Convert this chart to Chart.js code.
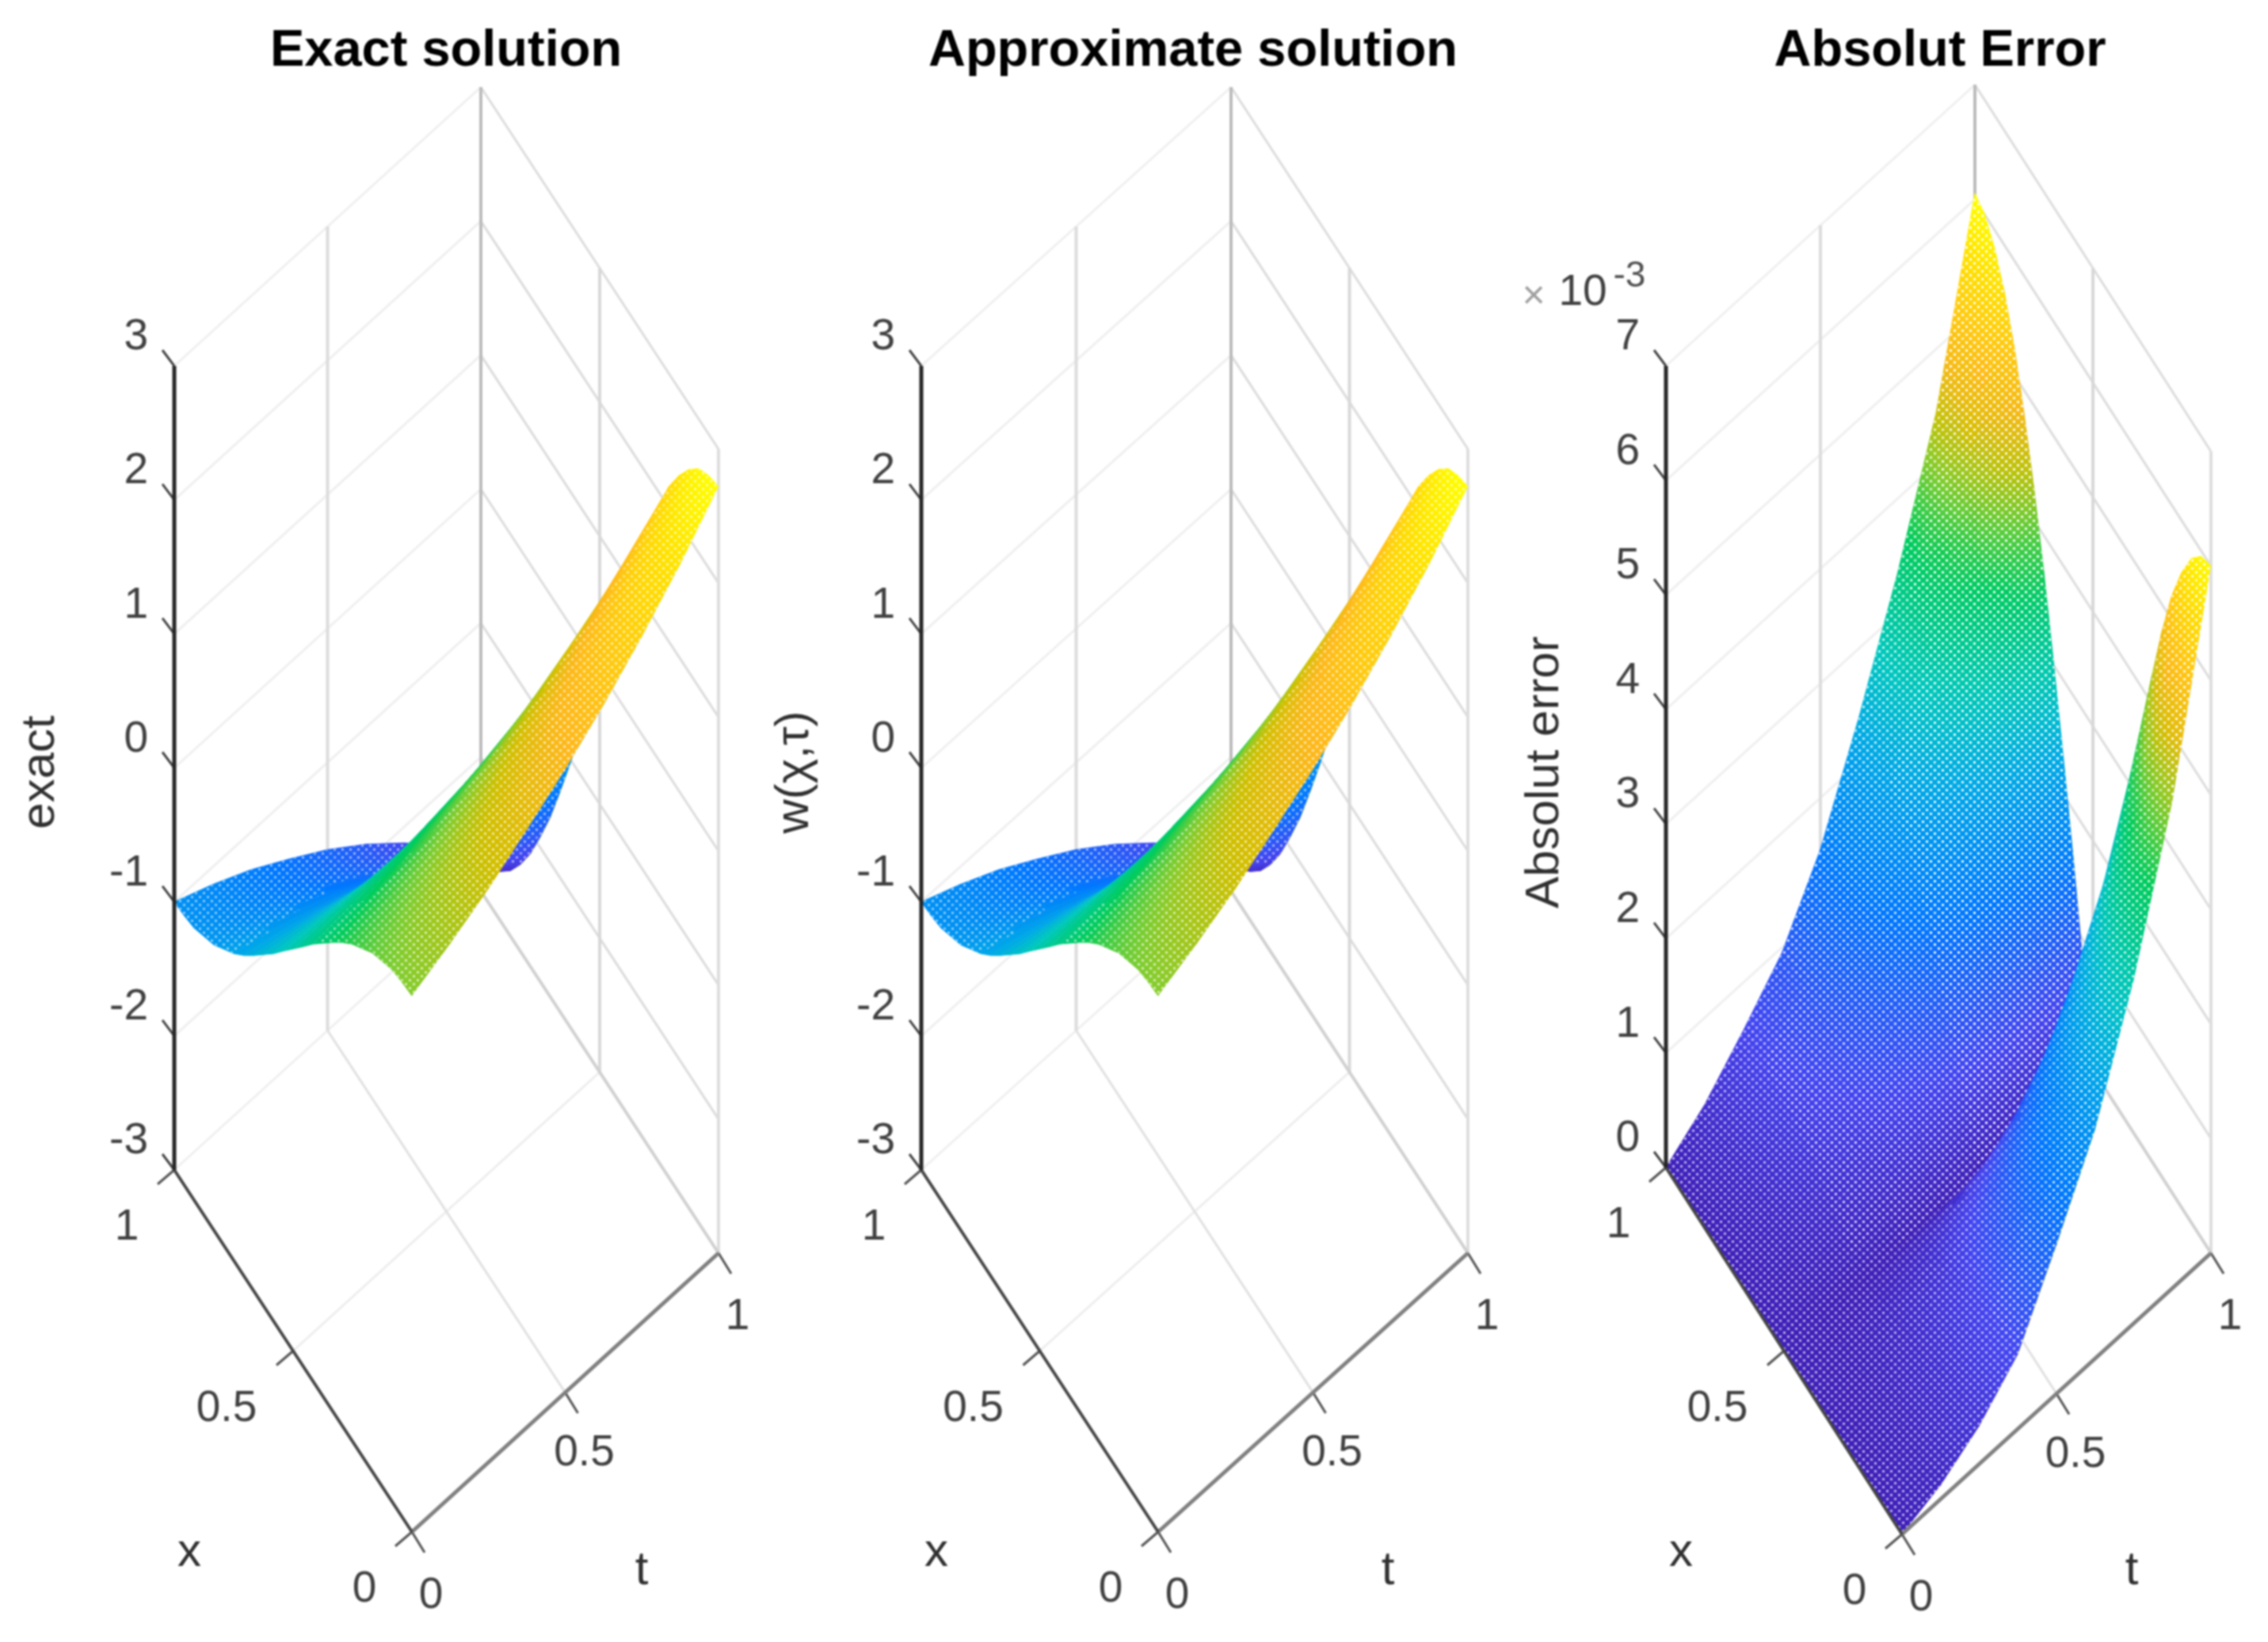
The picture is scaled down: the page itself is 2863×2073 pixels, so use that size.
<!DOCTYPE html>
<html>
<head>
<meta charset="utf-8">
<title>Exact solution, Approximate solution, Absolut Error</title>
<script src="https://cdn.jsdelivr.net/npm/chart.js@4/dist/chart.umd.min.js"></script>
<style>
    html, body { margin: 0; padding: 0; background: #fff; overflow: hidden; }
    #page { position: relative; width: 2863px; height: 2073px; overflow: hidden; }
    canvas { position: absolute; top: 0; filter: blur(1.3px); }
</style>
</head>
<body>
<div id="page">
    <canvas id="chart_exact" width="1126" height="2073" style="left:0"></canvas>
    <canvas id="chart_approx" width="1112" height="2073" style="left:950px"></canvas>
    <canvas id="chart_error" width="1098" height="2073" style="left:1900px"></canvas>
</div>
<script>
    const x_values = [0, 0.042, 0.083, 0.125, 0.167, 0.208, 0.25, 0.292, 0.333, 0.375, 0.417, 0.458, 0.5,
        0.542, 0.583, 0.625, 0.667, 0.708, 0.75, 0.792, 0.833, 0.875, 0.917, 0.958, 1];
    const t_values = [0, 0.125, 0.25, 0.375, 0.5, 0.625, 0.75, 0.875, 1];

    // one row per t, one column per x
    const exact_z = [
        [1.00, 0.99, 0.97, 0.92, 0.87, 0.79, 0.71, 0.61, 0.50, 0.38, 0.26, 0.13, 0, -0.13, -0.26, -0.38, -0.50, -0.61, -0.71, -0.79, -0.87, -0.92, -0.97, -0.99, -1.00],
        [1.13, 1.12, 1.09, 1.05, 0.98, 0.90, 0.80, 0.69, 0.57, 0.43, 0.29, 0.15, 0, -0.15, -0.29, -0.43, -0.57, -0.69, -0.80, -0.90, -0.98, -1.05, -1.09, -1.12, -1.13],
        [1.28, 1.27, 1.24, 1.19, 1.11, 1.02, 0.91, 0.78, 0.64, 0.49, 0.33, 0.17, 0, -0.17, -0.33, -0.49, -0.64, -0.78, -0.91, -1.02, -1.11, -1.19, -1.24, -1.27, -1.28],
        [1.46, 1.44, 1.41, 1.34, 1.26, 1.15, 1.03, 0.89, 0.73, 0.56, 0.38, 0.19, 0, -0.19, -0.38, -0.56, -0.73, -0.89, -1.03, -1.15, -1.26, -1.34, -1.41, -1.44, -1.46],
        [1.65, 1.63, 1.59, 1.52, 1.43, 1.31, 1.17, 1.00, 0.82, 0.63, 0.43, 0.22, 0, -0.22, -0.43, -0.63, -0.82, -1.00, -1.17, -1.31, -1.43, -1.52, -1.59, -1.63, -1.65],
        [1.87, 1.85, 1.80, 1.73, 1.62, 1.48, 1.32, 1.14, 0.93, 0.72, 0.48, 0.24, 0, -0.24, -0.48, -0.72, -0.93, -1.14, -1.32, -1.48, -1.62, -1.73, -1.80, -1.85, -1.87],
        [2.12, 2.10, 2.04, 1.96, 1.83, 1.68, 1.50, 1.29, 1.06, 0.81, 0.55, 0.28, 0, -0.28, -0.55, -0.81, -1.06, -1.29, -1.50, -1.68, -1.83, -1.96, -2.04, -2.10, -2.12],
        [2.40, 2.38, 2.32, 2.22, 2.08, 1.90, 1.70, 1.46, 1.20, 0.92, 0.62, 0.31, 0, -0.31, -0.62, -0.92, -1.20, -1.46, -1.70, -1.90, -2.08, -2.22, -2.32, -2.38, -2.40],
        [2.72, 2.69, 2.63, 2.51, 2.35, 2.16, 1.92, 1.66, 1.36, 1.04, 0.70, 0.36, 0, -0.36, -0.70, -1.04, -1.36, -1.66, -1.92, -2.16, -2.35, -2.51, -2.63, -2.69, -2.72]
    ];
    // cannot be told apart from the exact surface in the picture
    const approx_z = exact_z;
    // in units of 10^-3
    const error_z = [
        [0, 0, 0, 0, 0, 0, 0, 0, 0, 0, 0, 0, 0, 0, 0, 0, 0, 0, 0, 0, 0, 0, 0, 0, 0],
        [0.12, 0.12, 0.12, 0.11, 0.10, 0.10, 0.08, 0.07, 0.06, 0.05, 0.03, 0.02, 0, 0.03, 0.06, 0.09, 0.12, 0.15, 0.17, 0.19, 0.21, 0.22, 0.23, 0.24, 0.24],
        [0.33, 0.33, 0.32, 0.30, 0.29, 0.26, 0.23, 0.20, 0.17, 0.13, 0.09, 0.04, 0, 0.08, 0.15, 0.22, 0.29, 0.35, 0.41, 0.46, 0.50, 0.54, 0.56, 0.57, 0.58],
        [0.65, 0.64, 0.63, 0.60, 0.56, 0.52, 0.46, 0.40, 0.33, 0.25, 0.17, 0.09, 0, 0.12, 0.25, 0.36, 0.48, 0.58, 0.67, 0.75, 0.82, 0.88, 0.92, 0.94, 0.95],
        [1.30, 1.29, 1.26, 1.20, 1.13, 1.03, 0.92, 0.79, 0.65, 0.50, 0.34, 0.17, 0, 0.20, 0.40, 0.59, 0.78, 0.94, 1.10, 1.23, 1.34, 1.43, 1.50, 1.54, 1.55],
        [2.00, 1.98, 1.93, 1.85, 1.73, 1.59, 1.41, 1.22, 1.00, 0.77, 0.52, 0.26, 0, 0.31, 0.62, 0.92, 1.20, 1.46, 1.70, 1.90, 2.08, 2.22, 2.32, 2.38, 2.40],
        [3.00, 2.97, 2.90, 2.77, 2.60, 2.38, 2.12, 1.83, 1.50, 1.15, 0.78, 0.39, 0, 0.44, 0.87, 1.28, 1.68, 2.04, 2.37, 2.66, 2.90, 3.10, 3.24, 3.32, 3.35],
        [4.25, 4.21, 4.11, 3.93, 3.68, 3.37, 3.00, 2.59, 2.13, 1.63, 1.10, 0.56, 0, 0.58, 1.15, 1.70, 2.23, 2.71, 3.15, 3.53, 3.85, 4.11, 4.30, 4.41, 4.45],
        [6.00, 5.95, 5.80, 5.54, 5.20, 4.76, 4.24, 3.65, 3.00, 2.30, 1.55, 0.79, 0, 0.79, 1.57, 2.32, 3.03, 3.68, 4.28, 4.80, 5.24, 5.59, 5.84, 6.00, 6.05]
    ];

    const x_ticks = [0, 0.5, 1];
    const t_ticks = [0, 0.5, 1];
    const solution_z_ticks = [-3, -2, -1, 0, 1, 2, 3];
    const error_z_ticks = [0, 1, 2, 3, 4, 5, 6, 7];

    const parula = [
        [0, [64, 32, 184]], [0.1, [69, 69, 240]], [0.25, [0, 120, 255]], [0.38, [0, 168, 232]],
        [0.47, [0, 200, 190]], [0.6, [0, 204, 90]], [0.68, [128, 205, 48]], [0.74, [208, 192, 0]],
        [0.81, [255, 184, 28]], [0.93, [255, 225, 0]], [1, [255, 255, 0]]
    ];

    function getColor(value) {
        value = Math.min(1, Math.max(0, value));
        for (let i = 1; i < parula.length; i++) {
            if (value <= parula[i][0]) {
                const f = (value - parula[i - 1][0]) / (parula[i][0] - parula[i - 1][0]);
                const c = parula[i - 1][1].map((v, k) => Math.round(v + f * (parula[i][1][k] - v)));
                return 'rgb(' + c.join(',') + ')';
            }
        }
        return 'rgb(255,255,0)';
    }

    function makeDots(ctx, alpha) {
        const tile = document.createElement('canvas');
        tile.width = 10;
        tile.height = 10;
        const t = tile.getContext('2d');
        t.fillStyle = 'rgba(255,255,255,' + alpha + ')';
        t.fillRect(1, 1, 3, 3);
        t.fillRect(6, 6, 3, 3);
        return ctx.createPattern(tile, 'repeat');
    }

    function line(points, color, width) {
        return { data: points, showLine: true, fill: false, borderColor: color, borderWidth: width, pointRadius: 0 };
    }

    function buildPanel(id, p) {
        const canvas = document.getElementById(id);
        const ctx = canvas.getContext('2d');
        const zmin = p.z_ticks[0];
        const zmax = p.z_ticks[p.z_ticks.length - 1];
        const unit = p.height / (zmax - zmin);
        const project = (x, t, z) => ({
            x: p.corner_x + x * (p.left_x - p.corner_x) + t * (p.right_x - p.corner_x),
            y: p.corner_y + x * (p.left_y - p.corner_y) + t * (p.right_y - p.corner_y) - (z - zmin) * unit
        });
        const dots = [makeDots(ctx, 0.55), makeDots(ctx, 0.65), makeDots(ctx, 0.8), makeDots(ctx, 0.95)];

        const front = [];
        // z, x and t axes with their tick marks
        front.push(line([project(1, 0, zmin), project(1, 0, zmax)], '#262626', 5));
        front.push(line([project(0, 0, zmin), project(1, 0, zmin)], '#454545', 4));
        front.push(line([project(0, 0, zmin), project(0, 1, zmin)], '#808080', 5));
        p.z_ticks.forEach(z => {
            const a = project(1, 0, z);
            front.push(line([a, { x: a.x - 15, y: a.y - 20 }], '#444444', 3));
        });
        x_ticks.forEach(x => {
            const a = project(x, 0, zmin);
            front.push(line([a, { x: a.x - 21, y: a.y + 18 }], '#555555', 3));
        });
        t_ticks.forEach(t => {
            const a = project(0, t, zmin);
            front.push(line([a, { x: a.x + 16, y: a.y + 26 }], '#555555', 3));
        });

        // surface, nearest cell first because Chart.js paints the list backwards
        const surface = [];
        for (let i = 0; i < x_values.length - 1; i++) {
            for (let j = 0; j < t_values.length - 1; j++) {
                const zs = [p.z[j][i], p.z[j][i + 1], p.z[j + 1][i + 1], p.z[j + 1][i]];
                const pts = [
                    project(x_values[i], t_values[j], zs[0]),
                    project(x_values[i + 1], t_values[j], zs[1]),
                    project(x_values[i + 1], t_values[j + 1], zs[2]),
                    project(x_values[i], t_values[j + 1], zs[3])
                ];
                const d1 = { x: pts[2].x - pts[0].x, y: pts[2].y - pts[0].y };
                const d2 = { x: pts[3].x - pts[1].x, y: pts[3].y - pts[1].y };
                const det = d1.x * d2.y - d1.y * d2.x;
                const low = Math.min(...zs);
                const high = Math.max(...zs);
                const avg = (zs[0] + zs[1] + zs[2] + zs[3]) / 4;
                let fill_color = getColor((avg - p.clim[0]) / (p.clim[1] - p.clim[0]));
                if (Math.abs(det) > 1 && high - low > 0.0001) {
                    const dz1 = zs[2] - zs[0];
                    const dz2 = zs[3] - zs[1];
                    const gx = (dz1 * d2.y - d1.y * dz2) / det;
                    const gy = (d1.x * dz2 - d2.x * dz1) / det;
                    const gg = gx * gx + gy * gy;
                    const cx = (pts[0].x + pts[1].x + pts[2].x + pts[3].x) / 4 - p.canvas_left;
                    const cy = (pts[0].y + pts[1].y + pts[2].y + pts[3].y) / 4;
                    if (gg > 0) {
                        const grad = ctx.createLinearGradient(
                            cx + gx * (low - avg) / gg, cy + gy * (low - avg) / gg,
                            cx + gx * (high - avg) / gg, cy + gy * (high - avg) / gg);
                        for (let s = 0; s <= 4; s++) {
                            const z = low + (high - low) * s / 4;
                            grad.addColorStop(s / 4, getColor((z - p.clim[0]) / (p.clim[1] - p.clim[0])));
                        }
                        fill_color = grad;
                    }
                }
                const area = Math.abs(det) / 2;
                // the mesh opens up where a cell is stretched on screen
                const level = area < 450 ? -1 : area < 1300 ? 0 : area < 2250 ? 1 : area < 4000 ? 2 : 3;
                if (level >= 0) {
                    surface.push({ data: pts, showLine: true, fill: 'shape', backgroundColor: dots[level], borderWidth: 0, pointRadius: 0 });
                }
                surface.push({ data: pts, showLine: true, fill: 'shape', backgroundColor: fill_color, borderColor: fill_color, borderWidth: 1, pointRadius: 0 });
            }
        }

        // walls and floor
        const back = [];
        back.push(line([project(1, 1, zmin), project(1, 1, zmax)], '#bcbcbc', 4));
        back.push(line([project(1, 1, zmin), project(0, 1, zmin)], '#d0d0d0', 4));
        back.push(line([project(1, 0.5, zmin), project(0, 0.5, zmin)], '#e0e0e0', 3));
        back.push(line([project(0.5, 0, zmin), project(0.5, 1, zmin)], '#ededed', 3));
        back.push(line([project(1, 0.5, zmin), project(1, 0.5, zmax)], '#dcdcdc', 4));
        back.push(line([project(0.5, 1, zmin), project(0.5, 1, zmax)], '#d8d8d8', 4));
        back.push(line([project(0, 1, zmin), project(0, 1, zmax)], '#dedede', 4));
        p.z_ticks.forEach(z => {
            back.push(line([project(1, 0, z), project(1, 1, z)], '#efefef', 3));
            back.push(line([project(1, 1, z), project(0, 1, z)], '#dcdcdc', 3));
        });

        const text_plugin = {
            id: 'axis_text',
            afterDraw(chart) {
                const c = chart.ctx;
                const sx = chart.scales.x;
                const sy = chart.scales.y;
                const put = (str, x, y, font, color, align, rot) => {
                    c.save();
                    c.font = font;
                    c.fillStyle = color;
                    c.textAlign = align || 'center';
                    c.textBaseline = 'middle';
                    c.translate(sx.getPixelForValue(x), sy.getPixelForValue(y));
                    if (rot) c.rotate(rot);
                    c.fillText(str, 0, 0);
                    c.restore();
                };
                const tick_font = '55px "Liberation Sans"';
                const label_font = '60px "Liberation Sans"';
                p.z_ticks.forEach(z => {
                    const a = project(1, 0, z);
                    put(String(z), a.x - 33, a.y - 36, tick_font, '#404040', 'right');
                });
                x_ticks.forEach(x => {
                    const a = project(x, 0, zmin);
                    put(String(x), a.x + (x === 0.5 ? -84 : -60), a.y + 73, tick_font, '#404040');
                });
                t_ticks.forEach(t => {
                    const a = project(0, t, zmin);
                    put(String(t), a.x + 24, a.y + (t === 0.5 ? 77 : 81), tick_font, '#404040');
                });
                put('x', p.left_x + 19, 1960, label_font, '#303030');
                put('t', p.corner_x + 290, 1983, label_font, '#303030');
                put(p.z_label, p.z_label_x, 975, label_font, '#303030', 'center', -Math.PI / 2);
                if (p.exponent) {
                    put('×', 1936, 375, '50px "Liberation Sans"', '#a0a0a0');
                    put('10', 1998, 370, tick_font, '#404040');
                    put('-3', 2057, 349, '46px "Liberation Sans"', '#505050');
                }
            }
        };

        new Chart(canvas, {
            type: 'scatter',
            data: { datasets: front.concat(surface, back) },
            options: {
                responsive: false,
                animation: false,
                devicePixelRatio: 1,
                events: [],
                layout: { padding: 0 },
                plugins: {
                    legend: { display: false },
                    tooltip: { enabled: false },
                    title: {
                        display: true,
                        text: p.title,
                        color: '#000',
                        font: { family: '"Liberation Sans"', size: 65, weight: 'bold', lineHeight: 1.2 },
                        padding: { top: 26, bottom: 0 }
                    }
                },
                scales: {
                    x: { type: 'linear', display: false, min: p.canvas_left, max: p.canvas_left + canvas.width },
                    y: { type: 'linear', display: false, reverse: true, min: 104, max: 2073 }
                }
            },
            plugins: [text_plugin]
        });
    }

    buildPanel('chart_exact', {
        title: 'Exact solution', z: exact_z, z_ticks: solution_z_ticks, clim: [-2.72, 2.72],
        z_label: 'exact', z_label_x: 51, canvas_left: 0, height: 1015,
        corner_x: 520, corner_y: 1934, left_x: 220, left_y: 1477, right_x: 907, right_y: 1582
    });
    buildPanel('chart_approx', {
        title: 'Approximate solution', z: approx_z, z_ticks: solution_z_ticks, clim: [-2.72, 2.72],
        z_label: 'w(χ,τ)', z_label_x: 1003, canvas_left: 950, height: 1015,
        corner_x: 1462, corner_y: 1934, left_x: 1163, left_y: 1477, right_x: 1853, right_y: 1582
    });
    buildPanel('chart_error', {
        title: 'Absolut Error', z: error_z, z_ticks: error_z_ticks, clim: [0, 6.05],
        z_label: 'Absolut error', z_label_x: 1950, canvas_left: 1900, height: 1012, exponent: true,
        corner_x: 2401, corner_y: 1937, left_x: 2103, left_y: 1474, right_x: 2791, right_y: 1582
    });
</script>
</body>
</html>
